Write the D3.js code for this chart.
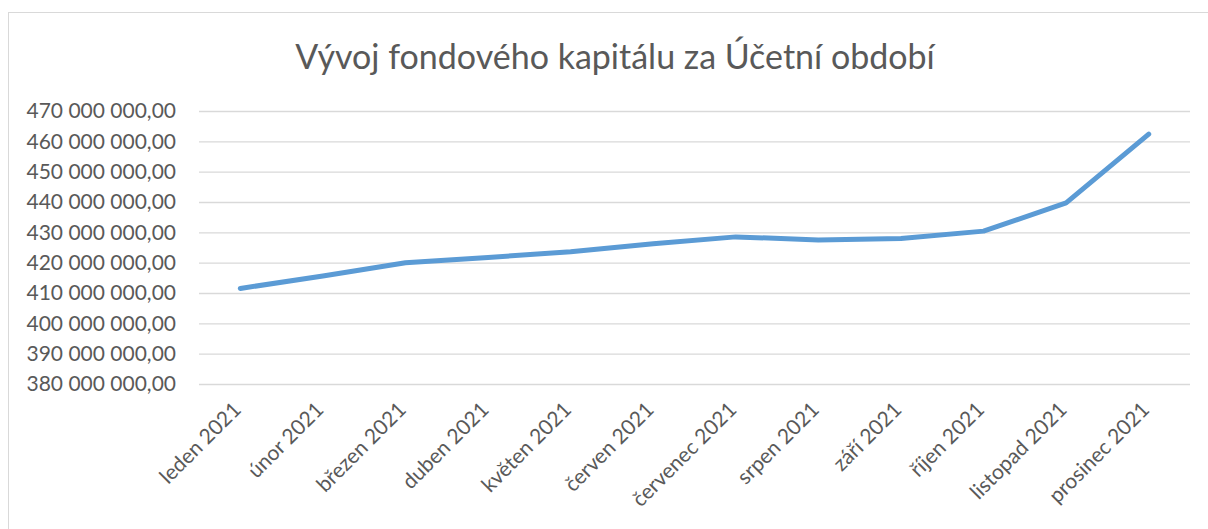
<!DOCTYPE html>
<html>
<head>
<meta charset="utf-8">
<script src="https://cdn.jsdelivr.net/npm/d3@7"></script>
<style>
  body { margin: 0; background: #fff; }
  text { font-family: Lato, "Open Sans", sans-serif; fill: #595959; }
</style>
</head>
<body>
<div id="chart"></div>
<script>
// Data
const months = ["leden 2021", "únor 2021", "březen 2021", "duben 2021", "květen 2021", "červen 2021",
  "červenec 2021", "srpen 2021", "září 2021", "říjen 2021", "listopad 2021", "prosinec 2021"];
const capital = [411500000, 415600000, 420000000, 421700000, 423600000, 426200000,
  428500000, 427500000, 428000000, 430400000, 439700000, 462400000];
const yTicks = [380e6, 390e6, 400e6, 410e6, 420e6, 430e6, 440e6, 450e6, 460e6, 470e6];
const chartTitle = "Vývoj fondového kapitálu za Účetní období";

const W = 1208, H = 529;
const margin = { top: 111, right: 18, bottom: 145, left: 199 };
const width = W - margin.left - margin.right;
const height = H - margin.top - margin.bottom;

const svg = d3.select("#chart").append("svg")
  .attr("width", W)
  .attr("height", H);

// Chart area border (right/bottom run off the picture)
svg.append("rect")
  .attr("x", 8.5).attr("y", 12.5)
  .attr("width", W + 20).attr("height", H + 20)
  .attr("fill", "none")
  .attr("stroke", "#d9d9d9");

svg.append("text")
  .attr("x", 615)
  .attr("y", 69)
  .attr("text-anchor", "middle")
  .attr("font-size", "34px")
  .text(chartTitle);

const g = svg.append("g")
  .attr("transform", `translate(${margin.left},${margin.top})`);

const x = d3.scaleBand()
  .domain(months)
  .range([0, width]);

const y = d3.scaleLinear()
  .domain([380e6, 470e6])
  .range([height, 0]);

const fmt = v => d3.format(",.2f")(v).replace(/,/g, " ").replace(".", ",");

// Gridlines + y labels
const yAxis = g.append("g")
  .call(d3.axisLeft(y).tickValues(yTicks).tickSize(-width).tickPadding(23).tickFormat(fmt));
yAxis.select(".domain").remove();
yAxis.selectAll(".tick line").attr("stroke", "#d9d9d9").attr("stroke-width", 1.3);
yAxis.selectAll(".tick text")
  .attr("font-size", "21px")
  .attr("fill", "#595959")
  .style("font-family", "Lato, sans-serif");

// x labels
const xAxis = g.append("g")
  .attr("transform", `translate(0,${height})`)
  .call(d3.axisBottom(x).tickSize(0));
xAxis.select(".domain").remove();
xAxis.selectAll(".tick text")
  .attr("font-size", "21px")
  .attr("fill", "#595959")
  .style("font-family", "Lato, sans-serif")
  .attr("text-anchor", "end")
  .attr("dy", null)
  .attr("y", 0)
  .attr("transform", "translate(2,27) rotate(-45)");

// Line
const line = d3.line()
  .x((d, i) => x(months[i]) + x.bandwidth() / 2)
  .y(d => y(d));

g.append("path")
  .datum(capital)
  .attr("fill", "none")
  .attr("stroke", "#5b9bd5")
  .attr("stroke-width", 5)
  .attr("stroke-linecap", "round")
  .attr("stroke-linejoin", "round")
  .attr("d", line);
</script>
</body>
</html>
